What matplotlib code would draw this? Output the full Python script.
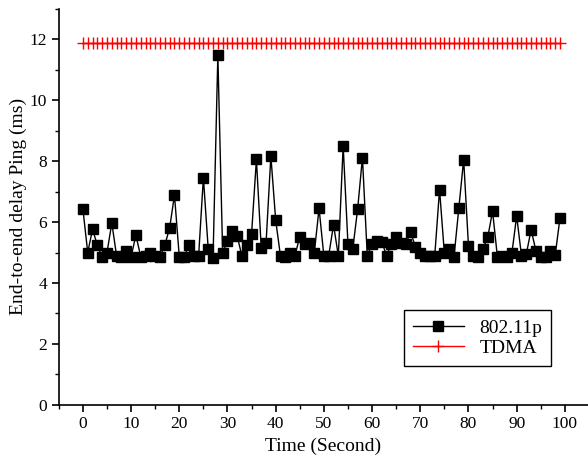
import numpy as np
import matplotlib.pyplot as plt
from matplotlib.ticker import MultipleLocator

plt.rcParams['font.family'] = ['Liberation Serif', 'DejaVu Serif']

# time in seconds
t = list(range(100))
# 802.11p end-to-end delay (ms)
delay_80211p = [6.43, 5.00, 5.76, 5.24, 4.86, 5.00, 5.97, 4.88, 4.86, 5.06,
                4.86, 5.57, 4.86, 4.88, 4.97, 4.88, 4.86, 5.24, 5.81, 6.89,
                4.86, 4.86, 5.24, 4.89, 4.87, 7.46, 5.12, 4.81, 11.48, 4.97,
                5.39, 5.72, 5.55, 4.88, 5.26, 5.62, 8.06, 5.16, 5.30, 8.17,
                6.06, 4.88, 4.84, 4.97, 4.90, 5.52, 5.27, 5.32, 4.97, 6.45,
                4.88, 4.90, 5.91, 4.89, 8.51, 5.27, 5.12, 6.42, 8.12, 4.90,
                5.27, 5.39, 5.36, 4.90, 5.27, 5.50, 5.30, 5.28, 5.68, 5.17,
                4.97, 4.89, 4.89, 4.89, 7.07, 4.97, 5.10, 4.86, 6.46, 8.05,
                5.22, 4.89, 4.86, 5.12, 5.50, 6.36, 4.86, 4.89, 4.86, 4.97,
                6.20, 4.89, 4.95, 5.75, 5.05, 4.86, 4.86, 5.06, 4.92, 6.15]
# TDMA delay (ms)
delay_tdma = [11.9] * 100

fig = plt.figure(figsize=(5.88, 4.66), dpi=100)
ax = fig.add_axes([0.100, 0.1316, 0.900, 0.849])

ax.plot(t, delay_80211p, color='black', lw=1.0, marker='s', markersize=6.8,
        label='802.11p')
ax.plot(t, delay_tdma, color='red', lw=1.0, marker='+', markersize=8,
        markeredgewidth=1.0, label='TDMA')

ax.set_xlim(-5, 104.8)
ax.set_ylim(0, 13)
ax.xaxis.set_major_locator(MultipleLocator(10))
ax.xaxis.set_minor_locator(MultipleLocator(5))
ax.yaxis.set_major_locator(MultipleLocator(2))
ax.yaxis.set_minor_locator(MultipleLocator(1))
ax.spines['top'].set_visible(False)
ax.spines['right'].set_visible(False)
ax.spines['left'].set_linewidth(1.2)
ax.spines['bottom'].set_linewidth(1.2)
ax.tick_params(which='major', direction='out', length=5, width=1.2, labelsize=12.5)
ax.tick_params(which='minor', direction='out', length=3, width=1.0)

ax.set_xlabel('Time (Second)', fontsize=14)
ax.set_ylabel('End-to-end delay Ping (ms)', fontsize=14, labelpad=2)

leg = ax.legend(loc='lower right', bbox_to_anchor=(0.93, 0.098), fontsize=14,
                fancybox=False, edgecolor='black', framealpha=1,
                borderaxespad=0, handlelength=2.6, labelspacing=0.15,
                borderpad=0.45)
leg.get_frame().set_linewidth(1.0)

fig.savefig('out.png', dpi=100)
